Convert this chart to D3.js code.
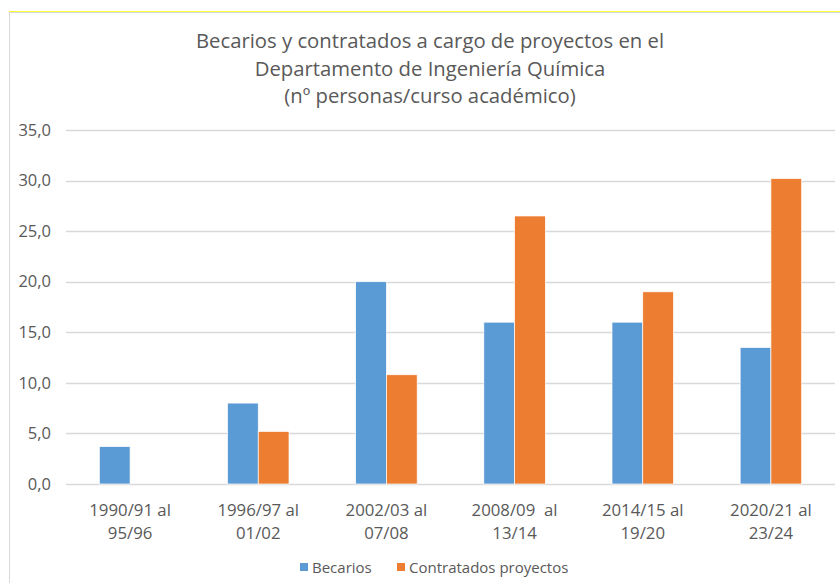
<!DOCTYPE html>
<html>
<head>
<meta charset="utf-8">
<script src="https://cdn.jsdelivr.net/npm/d3@7"></script>
<style>
  body { margin: 0; background: #fff; }
  text { font-family: "Open Sans", "Noto Sans", sans-serif; fill: #595959; }
</style>
</head>
<body>
<svg id="chart" width="840" height="583"></svg>
<script>
// data
let categories = [["1990/91 al", "95/96"], ["1996/97 al", "01/02"], ["2002/03 al", "07/08"],
                  ["2008/09  al", "13/14"], ["2014/15 al", "19/20"], ["2020/21 al", "23/24"]]
let seriesNames = ["Becarios", "Contratados proyectos"]
let becarios = [3.7, 8.0, 20.0, 16.0, 16.0, 13.5]
let contratados = [0, 5.2, 10.8, 26.5, 19.0, 30.2]
let yTicks = [0, 5, 10, 15, 20, 25, 30, 35]
let colors = ["#5b9bd5", "#ed7d31"]
let titleLines = ["Becarios y contratados a cargo de proyectos en el",
                  "Departamento de Ingeniería Química",
                  "(nº personas/curso académico)"]

let svg = d3.select("#chart")

// outer frame
svg.append("line").attr("x1", 9.5).attr("x2", 9.5).attr("y1", 11).attr("y2", 583)
  .style("stroke", "#d9d9d9")
svg.append("line").attr("x1", 9).attr("x2", 840).attr("y1", 12.5).attr("y2", 12.5)
  .style("stroke", "#d9d9d9")
svg.append("line").attr("x1", 9).attr("x2", 840).attr("y1", 11.5).attr("y2", 11.5)
  .style("stroke", "#ffff33")

let plotLeft = 66, plotRight = 835, plotTop = 130, plotBottom = 484

let x0 = d3.scaleBand().domain(d3.range(categories.length)).range([plotLeft, plotRight])
let bw = x0.bandwidth()
let x1 = d3.scaleBand().domain([0, 1]).range([bw * 0.26, bw * 0.74])
let y = d3.scaleLinear().domain([0, 35]).range([plotBottom, plotTop])

// gridlines
svg.append("g").selectAll("line").data(yTicks).join("line")
  .attr("x1", plotLeft).attr("x2", plotRight)
  .attr("y1", d => Math.round(y(d)) + 0.5).attr("y2", d => Math.round(y(d)) + 0.5)
  .style("stroke", "#d9d9d9").style("stroke-width", 1.3)

// y axis labels
let yAxis = d3.axisLeft(y).tickValues(yTicks).tickSize(0).tickPadding(0)
  .tickFormat(d => d3.format(".1f")(d).replace(".", ","))
svg.append("g").attr("transform", `translate(51,0)`).call(yAxis)
  .call(g => g.select(".domain").remove())
  .selectAll("text").style("font-size", "16.5px").style("fill", "#595959")
  .style("font-family", '"Open Sans", sans-serif')

// bars
let groups = svg.append("g").selectAll("g").data(categories).join("g")
  .attr("transform", (d, i) => `translate(${x0(i)},0)`)
groups.selectAll("rect").data((d, i) => [becarios[i], contratados[i]]).join("rect")
  .attr("x", (d, j) => x1(j)).attr("width", x1.bandwidth())
  .attr("y", d => y(d)).attr("height", d => y(0) - y(d))
  .style("fill", (d, j) => colors[j])
  .style("stroke", "#ffffff").style("stroke-width", 0.7)

// category labels (keep the double space of 2008/09)
let catLabels = svg.append("g").selectAll("text").data(categories).join("text")
  .attr("x", (d, i) => x0(i) + bw / 2).attr("text-anchor", "middle")
  .style("font-size", "16.8px").style("white-space", "pre")
catLabels.append("tspan").attr("x", (d, i) => x0(i) + bw / 2).attr("y", 516).text(d => d[0])
catLabels.append("tspan").attr("x", (d, i) => x0(i) + bw / 2).attr("y", 539).text(d => d[1])

// title
svg.append("g").selectAll("text").data(titleLines).join("text")
  .attr("x", 430).attr("y", (d, i) => 48 + i * 27.5)
  .attr("text-anchor", "middle").style("font-size", "20.3px")
  .text(d => d)

// legend
let legendX = [300, 397]
let legend = svg.append("g").selectAll("g").data(seriesNames).join("g")
  .attr("transform", (d, i) => `translate(${legendX[i]},563)`)
legend.append("rect").attr("width", 8).attr("height", 8)
  .style("fill", (d, i) => colors[i])
legend.append("text").attr("x", 12).attr("y", 9.5).style("font-size", "15px").text(d => d)
</script>
</body>
</html>
